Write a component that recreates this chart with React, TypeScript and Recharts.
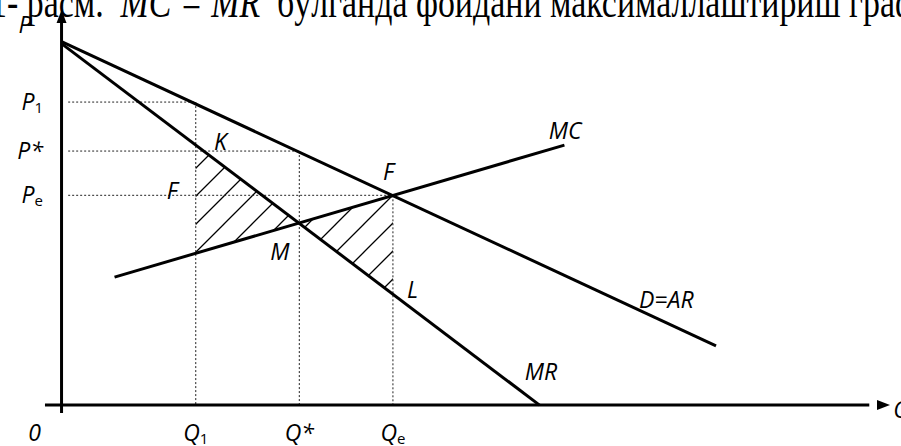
import React from "react";
import {
  ComposedChart,
  Line,
  Area,
  Scatter,
  XAxis,
  YAxis,
  ReferenceLine,
  ReferenceDot,
} from "recharts";

// quantity ticks under the Q axis
const qTicks = [0, 16.2, 28.7, 40];
const qTickNames = ["0", "Q", "Q*", "Q"];
const qTickSubs = ["", "1", "", "e"];

// price ticks beside the P axis
const pTicks = [76.7, 64.3, 53.1];
const pTickNames = ["P", "P*", "P"];
const pTickSubs = ["1", "", "e"];

// curves (end points of straight lines)
const demand = [
  { q: 0, p: 92 },
  { q: 79, p: 15 },
];
const marginalRevenue = [
  { q: 0, p: 91.5 },
  { q: 57.7, p: 0 },
];
const marginalCost = [
  { q: 6.4, p: 32.4 },
  { q: 60.7, p: 65.8 },
];

// hatched triangles between MC and MR (Q1 -> Q* -> Qe)
const lossBand = [
  { q: 16.2, band: [38.4, 65.8] },
  { q: 28.7, band: [46.0, 46.0] },
  { q: 40, band: [28.1, 53.1] },
];

// axis arrow tips
const yArrow = [{ q: 0, p: 100 }];
const xArrow = [{ q: 100, p: 0 }];

const LABEL_FONT = "'Open Sans', sans-serif";

const QTick = (props: any) => {
  const { x, payload } = props;
  const i = qTicks.indexOf(payload.value);
  if (i < 0) return null;
  return (
    <text
      x={x + (i === 0 ? -27 : 0)}
      y={441}
      textAnchor="middle"
      fontFamily={LABEL_FONT}
      fontStyle="italic"
      fontSize={23}
      fill="#000"
    >
      {qTickNames[i]}
      {qTickSubs[i] && (
        <tspan fontSize={15} fontStyle="normal" dy={3}>
          {qTickSubs[i]}
        </tspan>
      )}
    </text>
  );
};

const PTick = (props: any) => {
  const { y, payload } = props;
  const i = pTicks.indexOf(payload.value);
  if (i < 0) return null;
  return (
    <text
      x={43}
      y={y + 8}
      textAnchor="end"
      fontFamily={LABEL_FONT}
      fontStyle="italic"
      fontSize={23}
      fill="#000"
    >
      {pTickNames[i]}
      {pTickSubs[i] && (
        <tspan fontSize={15} fontStyle="normal" dy={3}>
          {pTickSubs[i]}
        </tspan>
      )}
    </text>
  );
};

const Note = (props: any) => {
  const { viewBox, text } = props;
  if (!viewBox) return null;
  return (
    <text
      x={viewBox.x}
      y={viewBox.y}
      fontFamily={LABEL_FONT}
      fontStyle="italic"
      fontSize={23}
      fill="#000"
    >
      {text}
    </text>
  );
};

const UpArrow = (props: any) => {
  const { cx, cy } = props;
  return <path d={`M${cx},${cy} l-5,13 l10,0 z`} fill="#000" />;
};

const RightArrow = (props: any) => {
  const { cx, cy } = props;
  return <path d={`M${cx},${cy} l-13,-5 l0,10 z`} fill="#000" />;
};

const dotted = { stroke: "#222", strokeWidth: 1, strokeDasharray: "2 2" };
const solid = { stroke: "#000", strokeWidth: 3 };

export default function App() {
  return (
    <div
      style={{
        position: "absolute",
        left: 0,
        top: 0,
        width: 901,
        height: 446,
        overflow: "hidden",
        background: "#fff",
      }}
    >
      <div
        style={{
          position: "absolute",
          left: -10,
          top: -19,
          fontFamily: "'Liberation Serif', 'Times New Roman', serif",
          fontSize: 44,
          lineHeight: "44px",
          whiteSpace: "nowrap",
          transform: "scaleX(0.77)",
          transformOrigin: "0 0",
          color: "#000",
        }}
      >
        1- расм.&nbsp; <i>MC = MR</i>&nbsp; бўлганда фойдани максималлаштириш графиги
      </div>
      <ComposedChart
        width={901}
        height={446}
        margin={{ top: 10, right: 11, bottom: 0, left: 0 }}
      >
        <defs>
          <pattern
            id="hatch"
            patternUnits="userSpaceOnUse"
            width={28}
            height={28}
          >
            <path
              d="M0,28 L28,0 M-4,4 L4,-4 M24,32 L32,24"
              stroke="#000"
              strokeWidth={1.3}
            />
          </pattern>
        </defs>
        <XAxis
          type="number"
          dataKey="q"
          domain={[-2.6, 100]}
          allowDataOverflow
          ticks={qTicks}
          interval={0}
          tick={<QTick />}
          axisLine={false}
          tickLine={false}
          height={31}
        />
        <YAxis
          type="number"
          dataKey="p"
          domain={[-2.5, 100]}
          allowDataOverflow
          ticks={pTicks}
          interval={0}
          tick={<PTick />}
          axisLine={false}
          tickLine={false}
          width={40}
        />

        <Area
          data={lossBand}
          dataKey="band"
          type="linear"
          stroke="none"
          fill="url(#hatch)"
          fillOpacity={1}
          isAnimationActive={false}
        />

        {pTicks.map((p, i) => (
          <ReferenceLine
            key={"h" + i}
            segment={[
              { x: 0.8, y: p },
              { x: qTicks[i + 1], y: p },
            ]}
            {...dotted}
          />
        ))}
        {qTicks.slice(1).map((q, i) => (
          <ReferenceLine
            key={"v" + i}
            segment={[
              { x: q, y: pTicks[i] },
              { x: q, y: 0 },
            ]}
            {...dotted}
          />
        ))}

        <ReferenceLine
          segment={[
            { x: 0, y: -2 },
            { x: 0, y: 97 },
          ]}
          ifOverflow="visible"
          {...solid}
        />
        <ReferenceLine
          segment={[
            { x: -2, y: 0 },
            { x: 97.5, y: 0 },
          ]}
          ifOverflow="visible"
          {...solid}
        />

        <Line
          data={demand}
          dataKey="p"
          type="linear"
          dot={false}
          {...solid}
          isAnimationActive={false}
        />
        <Line
          data={marginalRevenue}
          dataKey="p"
          type="linear"
          dot={false}
          {...solid}
          isAnimationActive={false}
        />
        <Line
          data={marginalCost}
          dataKey="p"
          type="linear"
          dot={false}
          {...solid}
          isAnimationActive={false}
        />

        <Scatter data={yArrow} dataKey="p" shape={<UpArrow />} isAnimationActive={false} />
        <Scatter data={xArrow} dataKey="p" shape={<RightArrow />} isAnimationActive={false} />

        <ReferenceDot x={-5.2} y={94.2} r={0} ifOverflow="visible" label={<Note text="P" />} />
        <ReferenceDot x={100.4} y={-3.3} r={0} ifOverflow="visible" label={<Note text="Q" />} />
        <ReferenceDot x={18.4} y={64.6} r={0} ifOverflow="visible" label={<Note text="K" />} />
        <ReferenceDot x={12.7} y={52.2} r={0} ifOverflow="visible" label={<Note text="F" />} />
        <ReferenceDot x={38.8} y={57.0} r={0} ifOverflow="visible" label={<Note text="F" />} />
        <ReferenceDot x={25.2} y={36.7} r={0} ifOverflow="visible" label={<Note text="M" />} />
        <ReferenceDot x={41.7} y={27.1} r={0} ifOverflow="visible" label={<Note text="L" />} />
        <ReferenceDot x={58.8} y={67.3} r={0} ifOverflow="visible" label={<Note text="MC" />} />
        <ReferenceDot x={69.7} y={24.6} r={0} ifOverflow="visible" label={<Note text="D=AR" />} />
        <ReferenceDot x={55.9} y={6.3} r={0} ifOverflow="visible" label={<Note text="MR" />} />
      </ComposedChart>
    </div>
  );
}
